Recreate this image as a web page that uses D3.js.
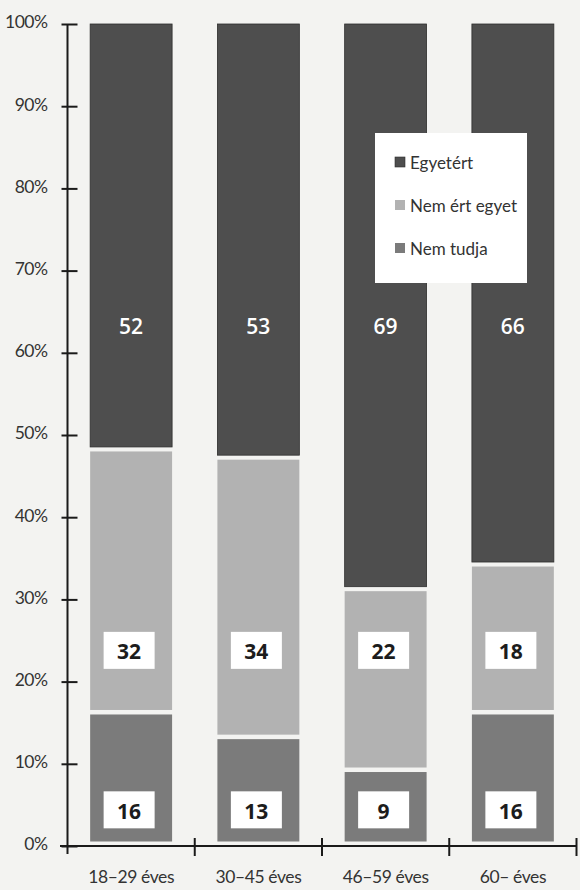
<!DOCTYPE html>
<html>
<head>
<meta charset="utf-8">
<script src="https://cdn.jsdelivr.net/npm/d3@7"></script>
<style>
  html, body { margin: 0; padding: 0; background: #f3f3f1; }
  svg { display: block; }
</style>
</head>
<body>
<svg id="chart" width="580" height="890"></svg>
<script>
// Age groups on the x axis
const categories = ["18–29 éves", "30–45 éves", "46–59 éves", "60– éves"];
// Shares (%) per answer, per age group
const agree = [52, 53, 69, 66];       // Egyetért
const disagree = [32, 34, 22, 18];    // Nem ért egyet
const dontKnow = [16, 13, 9, 16];     // Nem tudja
const seriesNames = ["Egyetért", "Nem ért egyet", "Nem tudja"];
const yTicks = [0, 10, 20, 30, 40, 50, 60, 70, 80, 90, 100];

const colors = { "Egyetért": "#4e4e4e", "Nem ért egyet": "#b2b2b2", "Nem tudja": "#7b7b7b" };

const rows = categories.map((c, i) => ({
  cat: c,
  "Nem tudja": dontKnow[i],
  "Nem ért egyet": disagree[i],
  "Egyetért": agree[i]
}));
// stacked from the bottom: don't know, disagree, agree
const stackKeys = ["Nem tudja", "Nem ért egyet", "Egyetért"];
const stacked = d3.stack().keys(stackKeys)(rows);

const svg = d3.select("#chart");
const axisFont = "Lato, 'Noto Sans', sans-serif";

const x = d3.scaleBand().domain(categories).range([67.5, 576.5])
  .paddingInner(0.356).paddingOuter(0.178);
const y = d3.scaleLinear().domain([0, 100]).range([846, 24]);

const gap = 4.5;

// stacked segments
const layers = svg.append("g").selectAll("g").data(stacked).join("g")
  .attr("fill", d => colors[d.key]);
layers.selectAll("rect").data(d => d.map(p => ({ key: d.key, p }))).join("rect")
  .attr("x", d => x(d.p.data.cat))
  .attr("width", x.bandwidth())
  .attr("y", d => y(d.p[1]))
  .attr("height", d => y(d.p[0]) - y(d.p[1]) - gap)
  .attr("stroke", d => d.key === "Egyetért" ? "#2e2e2e" : "none")
  .attr("stroke-width", 0.8);

// value labels: fixed rows per answer
const labelRowPct = { "Egyetért": 63.3, "Nem ért egyet": 23.8, "Nem tudja": 4.4 };
const boxW = 51, boxH = 37;
const labels = svg.append("g");
stacked.forEach(layer => {
  layer.forEach(p => {
    const cx = x(p.data.cat) + x.bandwidth() / 2 - 2;
    const cy = y(labelRowPct[layer.key]);
    const v = p.data[layer.key];
    if (layer.key === "Egyetért") {
      labels.append("text")
        .attr("x", cx + 2).attr("y", cy)
        .attr("text-anchor", "middle").attr("dominant-baseline", "central")
        .attr("font-family", "'Open Sans', sans-serif")
        .attr("font-weight", 600).attr("font-size", 21)
        .attr("fill", "#ffffff")
        .text(v);
    } else {
      labels.append("rect")
        .attr("x", cx - boxW / 2).attr("y", cy - boxH / 2)
        .attr("width", boxW).attr("height", boxH)
        .attr("fill", "#ffffff");
      labels.append("text")
        .attr("x", cx).attr("y", cy + 1)
        .attr("text-anchor", "middle").attr("dominant-baseline", "central")
        .attr("font-family", "'Open Sans', sans-serif")
        .attr("font-weight", 700).attr("font-size", 21)
        .attr("fill", "#1c1c1c")
        .text(v);
    }
  });
});

// y axis
const yAxis = svg.append("g").attr("transform", "translate(67.5,0)")
  .call(d3.axisLeft(y).tickValues(yTicks).tickFormat(d => d + "%").tickSize(0).tickPadding(20));
yAxis.select(".domain").remove();
yAxis.selectAll("text")
  .attr("font-family", axisFont).attr("font-size", 17.5).attr("fill", "#333")
  .attr("dy", "0.22em").attr("letter-spacing", -0.5);
yAxis.append("line").attr("x1", 0).attr("x2", 0).attr("y1", y(100)).attr("y2", y(0) + 8)
  .attr("stroke", "#1a1a1a").attr("stroke-width", 2);
yAxis.selectAll(".tick").append("line")
  .attr("x1", -6).attr("x2", 10).attr("y1", 0).attr("y2", 0)
  .attr("stroke", "#1a1a1a").attr("stroke-width", 2);

// x axis
const xAxis = svg.append("g").attr("transform", "translate(0,846)")
  .call(d3.axisBottom(x).tickSize(0).tickPadding(25));
xAxis.select(".domain").remove();
xAxis.selectAll("text")
  .attr("font-family", axisFont).attr("font-size", 17.5).attr("fill", "#333")
  .attr("letter-spacing", -0.4);
xAxis.append("line").attr("x1", 60).attr("x2", x.range()[1]).attr("y1", 0).attr("y2", 0)
  .attr("stroke", "#1a1a1a").attr("stroke-width", 2);
const bounds = categories.map((c, i) => x.range()[0] + (i + 1) * x.step());
xAxis.selectAll(".sep").data(bounds).join("line").attr("class", "sep")
  .attr("x1", d => d).attr("x2", d => d).attr("y1", -8).attr("y2", 10)
  .attr("stroke", "#1a1a1a").attr("stroke-width", 2);

// legend
const legend = svg.append("g").attr("transform", "translate(375,133)");
legend.append("rect").attr("width", 152).attr("height", 150).attr("fill", "#ffffff");
seriesNames.forEach((name, i) => {
  const cy = 29 + i * 43;
  legend.append("rect").attr("x", 20).attr("y", cy - 5).attr("width", 10).attr("height", 10)
    .attr("fill", colors[name]).attr("stroke", name === "Egyetért" ? "#2e2e2e" : "none").attr("stroke-width", 0.6);
  legend.append("text").attr("x", 35).attr("y", cy)
    .attr("dominant-baseline", "central")
    .attr("font-family", axisFont).attr("font-size", 17).attr("fill", "#333")
    .text(name);
});
</script>
</body>
</html>
